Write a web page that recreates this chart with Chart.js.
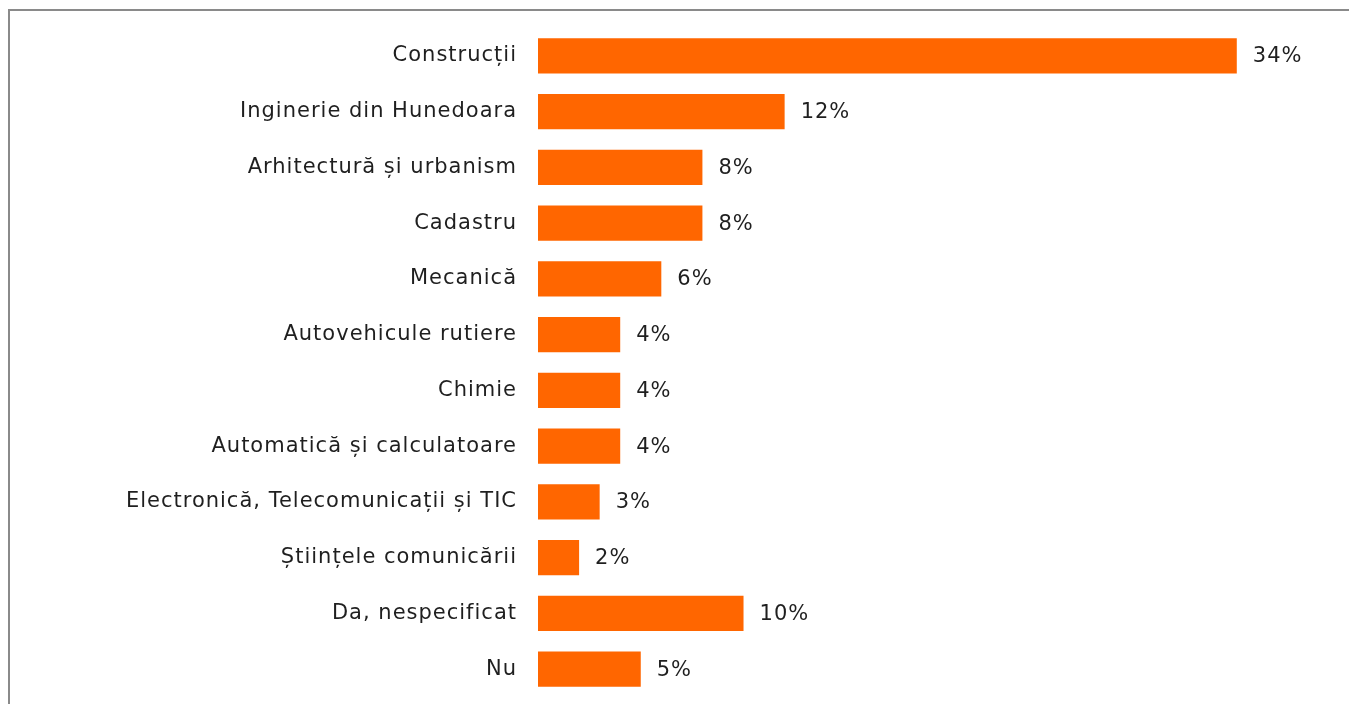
<!DOCTYPE html>
<html>
<head>
<meta charset="utf-8">
<script src="https://cdn.jsdelivr.net/npm/chart.js@4.4.1/dist/chart.umd.min.js"></script>
<style>
  html, body { margin: 0; padding: 0; background: #fff; overflow: hidden; }
  #frame {
    position: absolute; left: 8px; top: 9px; width: 1400px; height: 760px;
    border-left: 2px solid #8a8a8a; border-top: 2px solid #8a8a8a;
  }
  #chart { position: absolute; left: 0; top: 0; }
</style>
</head>
<body>
<div id="frame"></div>
<canvas id="chart" width="1349" height="704"></canvas>
<script>
const categories = [
  'Construcții',
  'Inginerie din Hunedoara',
  'Arhitectură și urbanism',
  'Cadastru',
  'Mecanică',
  'Autovehicule rutiere',
  'Chimie',
  'Automatică și calculatoare',
  'Electronică, Telecomunicații și TIC',
  'Științele comunicării',
  'Da, nespecificat',
  'Nu'
];
const values = [34, 12, 8, 8, 6, 4, 4, 4, 3, 2, 10, 5];

const FONT = '21px "DejaVu Sans", sans-serif';
const TEXT = '#1f1f1f';

// etichetele din stanga si procentele de la capatul barelor
const labelsPlugin = {
  id: 'labelsPlugin',
  afterDatasetsDraw(chart) {
    const ctx = chart.ctx;
    const meta = chart.getDatasetMeta(0);
    const left = chart.chartArea.left;
    ctx.save();
    ctx.font = FONT;
    ctx.fillStyle = TEXT;
    ctx.letterSpacing = '1px';
    ctx.textBaseline = 'middle';
    meta.data.forEach((bar, i) => {
      ctx.textAlign = 'right';
      ctx.fillText(categories[i], left - 21, bar.y);
      ctx.textAlign = 'left';
      ctx.fillText(values[i] + '%', bar.x + 16, bar.y + 1);
    });
    ctx.restore();
  }
};

new Chart(document.getElementById('chart'), {
  type: 'bar',
  data: {
    labels: categories,
    datasets: [{
      data: values,
      backgroundColor: '#ff6600',
      borderWidth: 0,
      barPercentage: 0.63,
      categoryPercentage: 1
    }]
  },
  options: {
    indexAxis: 'y',
    responsive: false,
    animation: false,
    devicePixelRatio: 1,
    layout: { padding: { top: 28, bottom: 7, left: 0, right: 30 } },
    plugins: { legend: { display: false }, tooltip: { enabled: false } },
    scales: {
      x: { display: false, min: 0, max: 38 },
      y: {
        grid: { display: false, drawTicks: false },
        border: { display: false },
        ticks: { display: false },
        afterFit(scale) { scale.width = 538; }
      }
    }
  },
  plugins: [labelsPlugin]
});
</script>
</body>
</html>
